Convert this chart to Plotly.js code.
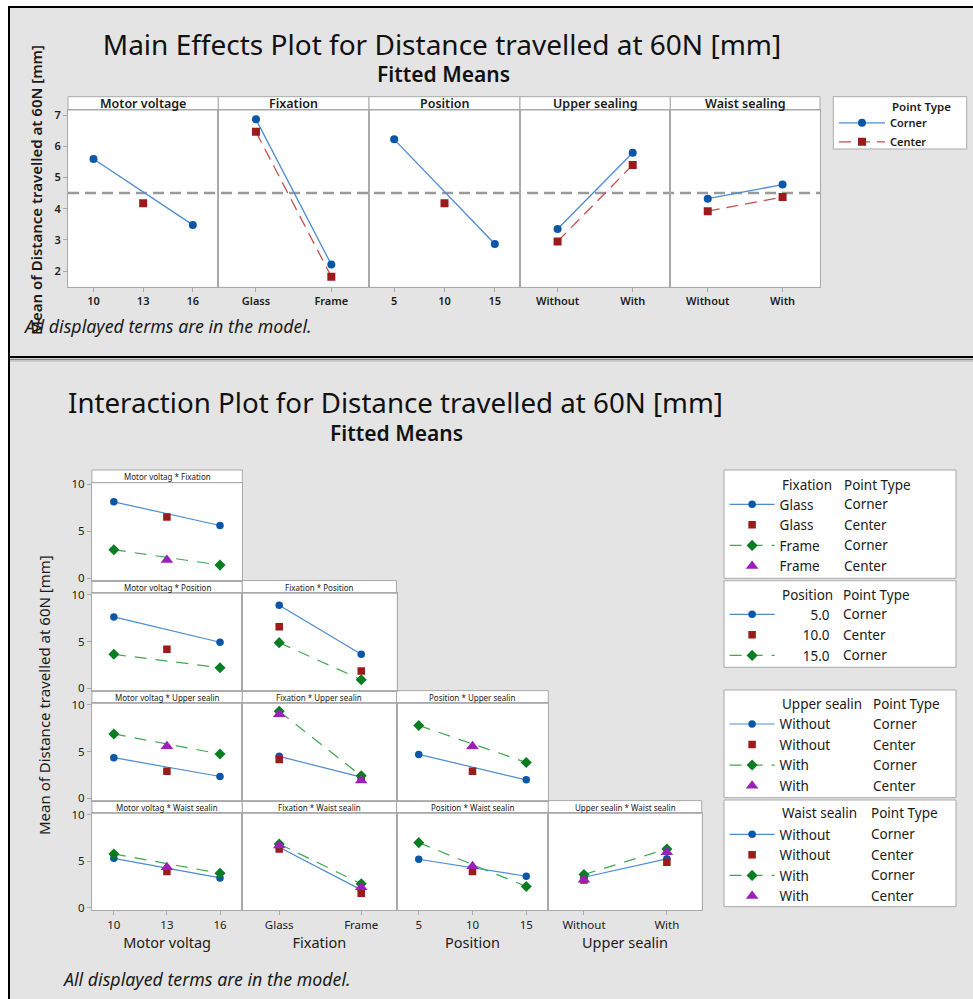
<!DOCTYPE html>
<html><head><meta charset="utf-8">
<script src="https://cdn.plot.ly/plotly-3.0.1.min.js"></script>
<style>html,body{margin:0;padding:0;background:#fff}</style>
</head><body><div id="chart" style="width:973px;height:999px"></div>
<script>
// ================= DATA =================
const pointTypes = ['Corner', 'Center'];
const grandMean = 4.5;

// factor levels
const voltLevels = [10, 13, 16];
const fixLevels = ['Glass', 'Frame'];
const posLevels = [5, 10, 15];
const sealLevels = ['Without', 'With'];

// Main effects plot (fitted means)
const mainFactors = ['Motor voltage', 'Fixation', 'Position', 'Upper sealing', 'Waist sealing'];
const meVoltCorner = [5.59, 3.48];
const meVoltCenter = [4.17];
const meFixCorner = [6.86, 2.21];
const meFixCenter = [6.46, 1.82];
const mePosCorner = [6.22, 2.87];
const mePosCenter = [4.17];
const meUpperCorner = [3.35, 5.79];
const meUpperCenter = [2.95, 5.40];
const meWaistCorner = [4.32, 4.77];
const meWaistCenter = [3.92, 4.37];
const meYTicks = [2, 3, 4, 5, 6, 7];

// Interaction plot (fitted means)
const ixColFactors = ['Motor voltag', 'Fixation', 'Position', 'Upper sealin'];
const ixRowFactors = ['Fixation', 'Position', 'Upper sealin', 'Waist sealin'];
const ixYTicks = [0, 5, 10];
const posLegendLabels = ['5.0', '10.0', '15.0'];

// row 1 : Motor voltag * Fixation
const mvFix_GlassCorner = [8.14, 5.62];
const mvFix_GlassCenter = [6.53];
const mvFix_FrameCorner = [3.04, 1.40];
const mvFix_FrameCenter = [1.94];
// row 2 : * Position
const mvPos_5Corner = [7.64, 4.93];
const mvPos_10Center = [4.18];
const mvPos_15Corner = [3.64, 2.21];
const fixPos_5Corner = [8.90, 3.64];
const fixPos_10Center = [6.60, 1.85];
const fixPos_15Corner = [4.89, 0.92];
// row 3 : * Upper sealin
const mvUp_WithoutCorner = [4.36, 2.34];
const mvUp_WithoutCenter = [2.91];
const mvUp_WithCorner = [6.90, 4.75];
const mvUp_WithCenter = [5.58];
const fixUp_WithoutCorner = [4.50, 2.27];
const fixUp_WithoutCenter = [4.17, 2.10];
const fixUp_WithCorner = [9.32, 2.41];
const fixUp_WithCenter = [9.00, 1.91];
const posUp_WithoutCorner = [4.71, 1.98];
const posUp_WithoutCenter = [2.91];
const posUp_WithCorner = [7.81, 3.85];
const posUp_WithCenter = [5.58];
// row 4 : * Waist sealin
const mvW_WithoutCorner = [5.33, 3.22];
const mvW_WithoutCenter = [3.90];
const mvW_WithCorner = [5.80, 3.72];
const mvW_WithCenter = [4.37];
const fixW_WithoutCorner = [6.52, 1.93];
const fixW_WithoutCenter = [6.34, 1.57];
const fixW_WithCorner = [6.88, 2.58];
const fixW_WithCenter = [6.70, 2.22];
const posW_WithoutCorner = [5.23, 3.40];
const posW_WithoutCenter = [3.90];
const posW_WithCorner = [7.02, 2.29];
const posW_WithCenter = [4.47];
const upW_WithoutCorner = [3.29, 5.27];
const upW_WithoutCenter = [3.00, 4.90];
const upW_WithCorner = [3.58, 6.34];
const upW_WithCenter = [3.01, 5.98];

// ================= STYLE / LAYOUT =================
const W = 973, H = 999;
const px = v => v / W;
const py = v => 1 - v / H;
const FONT = 'Noto Sans, Open Sans, sans-serif';
const DARK = '#1b1b1b';
const BORDER = '#a9a9a9';
const BLUE_M = '#0b56a6', BLUE_L = '#4d8bd0';
const RED_M = '#9c1a1a', RED_L = '#c4504e';
const GREEN_M = '#0a7d22', GREEN_L = '#3fa84f';
const PURP = '#9a20b8';

const st = {
  meCorner: {mode: 'lines+markers', line: {color: BLUE_L, width: 1.3}, marker: {color: BLUE_M, size: 8, symbol: 'circle'}},
  meCenter: {mode: 'lines+markers', line: {color: RED_L, width: 1.3, dash: '12px,7px'}, marker: {color: RED_M, size: 8, symbol: 'square'}},
  A: {mode: 'lines+markers', line: {color: BLUE_L, width: 1.2}, marker: {color: BLUE_M, size: 7.5, symbol: 'circle'}},
  B: {mode: 'markers', marker: {color: RED_M, size: 7.5, symbol: 'square'}},
  C: {mode: 'lines+markers', line: {color: GREEN_L, width: 1.2, dash: '12px,9px'}, marker: {color: GREEN_M, size: 8.5, symbol: 'diamond'}},
  D: {mode: 'markers', marker: {color: PURP, size: 11, symbol: 'triangle-up'}}
};

const traces = [];
const layout = {
  width: W, height: H,
  margin: {l: 0, r: 0, t: 0, b: 0, pad: 0},
  paper_bgcolor: '#e4e4e4',
  plot_bgcolor: '#ffffff',
  hovermode: false,
  showlegend: true,
  font: {family: FONT, color: DARK},
  title: {text: 'Main Effects Plot for Distance travelled at 60N [mm]', x: px(442), xanchor: 'center', xref: 'paper',
          y: py(45), yanchor: 'middle', yref: 'paper', font: {family: FONT, size: 28, color: '#111'}},
  shapes: [],
  annotations: []
};

function axKeys(n) {
  return {xk: n === 1 ? 'xaxis' : 'xaxis' + n, yk: n === 1 ? 'yaxis' : 'yaxis' + n,
          xr: n === 1 ? 'x' : 'x' + n, yr: n === 1 ? 'y' : 'y' + n};
}
function rect(x0, y0, x1, y1, fill, line, lw) {
  layout.shapes.push({type: 'rect', xref: 'paper', yref: 'paper', x0: px(x0), x1: px(x1), y0: py(y1), y1: py(y0),
    fillcolor: fill, line: {color: line || 'rgba(0,0,0,0)', width: lw === undefined ? 1 : lw}, layer: 'below'});
}
function hline(x0, x1, y, color, w) {
  layout.shapes.push({type: 'line', xref: 'paper', yref: 'paper', x0: px(x0), x1: px(x1), y0: py(y), y1: py(y), line: {color: color, width: w}, layer: 'above'});
}
function vline(x, y0, y1, color, w) {
  layout.shapes.push({type: 'line', xref: 'paper', yref: 'paper', x0: px(x), x1: px(x), y0: py(y0), y1: py(y1), line: {color: color, width: w}, layer: 'above'});
}
function text(t, x, y, opts) {
  opts = opts || {};
  layout.annotations.push(Object.assign({text: t, xref: 'paper', yref: 'paper', x: px(x), y: py(y), showarrow: false,
    xanchor: 'center', yanchor: 'middle', font: {family: FONT, size: 12, color: DARK}}, opts));
}

// ---------- page frame ----------
rect(0, 0, W, 6, '#ffffff', null, 0);
rect(0, 0, 8, H, '#ffffff', null, 0);
hline(8, W, 7, '#000', 2);
vline(9, 7, H, '#000', 2);
hline(8, W, 357, '#000', 2);
hline(10, W, 359.5, '#8a8a8a', 1.5);
hline(10, W, 361, '#c4c4c4', 1.5);

// ---------- MAIN EFFECTS ----------
const meEdges = [68, 218.3, 369, 520, 670.3, 820];
const meTop = 96.7, meStripBot = 110, meBot = 286.7;
const meYRange = [1.5, 7.16];
const meXRanges = [[8.46, 17.54], [-0.5, 1.5], [2.5, 17.5], [-0.5, 1.5], [-0.5, 1.5]];
const meCornerX = [[voltLevels[0], voltLevels[2]], fixLevels, [posLevels[0], posLevels[2]], sealLevels, sealLevels];
const meCenterX = [[voltLevels[1]], fixLevels, [posLevels[1]], sealLevels, sealLevels];
const meCornerY = [meVoltCorner, meFixCorner, mePosCorner, meUpperCorner, meWaistCorner];
const meCenterY = [meVoltCenter, meFixCenter, mePosCenter, meUpperCenter, meWaistCenter];
const meTickVals = [voltLevels, fixLevels, posLevels, sealLevels, sealLevels];
const meIsCat = [false, true, false, true, true];

for (let i = 0; i < 5; i++) {
  const n = i + 1, k = axKeys(n);
  const l = meEdges[i], r = meEdges[i + 1];
  layout[k.xk] = {domain: [px(l), px(r)], anchor: k.yr, range: meXRanges[i],
    type: meIsCat[i] ? 'category' : 'linear',
    tickvals: meTickVals[i], ticks: 'outside', ticklen: 4, tickcolor: BORDER, showline: true, mirror: true,
    linecolor: BORDER, linewidth: 1, showgrid: false, zeroline: false, fixedrange: true,
    tickfont: {family: FONT, size: 11, color: DARK, weight: 600}};
  if (meIsCat[i]) { layout[k.xk].categoryorder = 'array'; layout[k.xk].categoryarray = meTickVals[i]; }
  layout[k.yk] = {domain: [py(meBot), py(meStripBot)], anchor: k.xr, range: meYRange,
    tickvals: meYTicks, ticks: i === 0 ? 'outside' : '', ticklen: 4, tickcolor: BORDER, showticklabels: i === 0,
    showline: true, mirror: true, linecolor: BORDER, linewidth: 1, showgrid: false, zeroline: false, fixedrange: true,
    tickfont: {family: FONT, size: 11, color: DARK, weight: 600}};
  rect(l, meTop, r, meStripBot, '#ffffff', BORDER, 1);
  text(mainFactors[i], (l + r) / 2, (meTop + meStripBot) / 2 + 0.5, {font: {family: FONT, size: 12.5, color: DARK, weight: 600}});
  traces.push(Object.assign({type: 'scatter', x: meCornerX[i], y: meCornerY[i], xaxis: k.xr, yaxis: k.yr,
    name: pointTypes[0], legend: 'legend', showlegend: i === 0}, JSON.parse(JSON.stringify(st.meCorner))));
  traces.push(Object.assign({type: 'scatter', x: meCenterX[i], y: meCenterY[i], xaxis: k.xr, yaxis: k.yr,
    name: pointTypes[1], legend: 'legend', showlegend: i === 0}, JSON.parse(JSON.stringify(st.meCenter))));
}
// grand mean reference line
layout.shapes.push({type: 'line', xref: 'paper', yref: 'y', x0: px(meEdges[0]), x1: px(meEdges[5]), y0: grandMean, y1: grandMean,
  line: {color: '#9a9a9a', width: 2.5, dash: '11px,6px'}, layer: 'below'});

text('Fitted Means', 443.5, 74, {font: {family: FONT, size: 21, color: '#111', weight: 600}});
text('All displayed terms are in the model.', 21, 326, {xanchor: 'left', font: {family: FONT, size: 17.8, color: DARK, style: 'italic'}});
text('Mean of Distance travelled at 60N [mm]', 36, 190, {textangle: -90, font: {family: FONT, size: 15, color: DARK, weight: 600}});

// main legend
const meLegFont = 11, meLegTop = 108.3;
rect(833.3, 96.7, 966.7, 149, '#ffffff', BORDER, 1);
text('Point Type', 890, 106, {xanchor: 'left', font: {family: FONT, size: 11.5, color: DARK, weight: 600}});
layout.legend = {x: px(834), y: py(meLegTop), xanchor: 'left', yanchor: 'top', bgcolor: 'rgba(0,0,0,0)', borderwidth: 0,
  itemwidth: 46, traceorder: 'normal', font: {family: FONT, size: meLegFont, color: DARK, weight: 600}};

// ---------- INTERACTION ----------
text('Interaction Plot for Distance travelled at 60N [mm]', 395, 402, {font: {family: FONT, size: 27.7, color: '#111'}});
text('Fitted Means', 396.5, 433.5, {font: {family: FONT, size: 21, color: '#111', weight: 600}});
text('All displayed terms are in the model.', 60, 979, {xanchor: 'left', font: {family: FONT, size: 17.8, color: DARK, style: 'italic'}});
text('Mean of Distance travelled at 60N [mm]', 44, 695, {textangle: -90, font: {family: FONT, size: 15, color: DARK}});

const ixColEdges = [91.9, 242.3, 396.5, 548.3, 701.7];
const ixRowTops = [470, 580.5, 690.6, 800.6];
const ixRowBots = [580.5, 690.6, 800.6, 910];
const ixStripH = 12.7;
const ixYRange = [-0.24, 10.18];
const ixXRanges = [[8.76, 17.26], [-0.45, 1.43], [2.93, 17.05], [-0.43, 1.42]];
const ixIsCat = [false, true, false, true];
const ixTickVals = [voltLevels, fixLevels, posLevels, sealLevels];
const ixCornerX = [[voltLevels[0], voltLevels[2]], fixLevels, [posLevels[0], posLevels[2]], sealLevels];
const ixCenterX = [[voltLevels[1]], fixLevels, [posLevels[1]], sealLevels];

const ixData = [
  [[mvFix_GlassCorner, mvFix_GlassCenter, mvFix_FrameCorner, mvFix_FrameCenter]],
  [[mvPos_5Corner, mvPos_10Center, mvPos_15Corner], [fixPos_5Corner, fixPos_10Center, fixPos_15Corner]],
  [[mvUp_WithoutCorner, mvUp_WithoutCenter, mvUp_WithCorner, mvUp_WithCenter],
   [fixUp_WithoutCorner, fixUp_WithoutCenter, fixUp_WithCorner, fixUp_WithCenter],
   [posUp_WithoutCorner, posUp_WithoutCenter, posUp_WithCorner, posUp_WithCenter]],
  [[mvW_WithoutCorner, mvW_WithoutCenter, mvW_WithCorner, mvW_WithCenter],
   [fixW_WithoutCorner, fixW_WithoutCenter, fixW_WithCorner, fixW_WithCenter],
   [posW_WithoutCorner, posW_WithoutCenter, posW_WithCorner, posW_WithCenter],
   [upW_WithoutCorner, upW_WithoutCenter, upW_WithCorner, upW_WithCenter]]
];
const FS = '\u2007';
const rowLegendNames = [
  [fixLevels[0], fixLevels[0], fixLevels[1], fixLevels[1]],
  posLegendLabels.map(s => FS.repeat(7 - s.length) + s),
  [sealLevels[0], sealLevels[0], sealLevels[1], sealLevels[1]],
  [sealLevels[0], sealLevels[0], sealLevels[1], sealLevels[1]]
];
const rowStyles = [['A', 'B', 'C', 'D'], ['A', 'B', 'C'], ['A', 'B', 'C', 'D'], ['A', 'B', 'C', 'D']];

let n = 6;
for (let r = 0; r < 4; r++) {
  for (let c = 0; c <= r; c++) {
    const k = axKeys(n);
    const l = ixColEdges[c], rr = ixColEdges[c + 1];
    const top = ixRowTops[r], bot = ixRowBots[r];
    const lastRow = r === 3;
    layout[k.xk] = {domain: [px(l), px(rr)], anchor: k.yr, range: ixXRanges[c],
      type: ixIsCat[c] ? 'category' : 'linear', tickvals: ixTickVals[c],
      ticks: lastRow ? 'outside' : '', ticklen: 4, tickcolor: BORDER, showticklabels: lastRow,
      showline: true, mirror: true, linecolor: BORDER, linewidth: 1, showgrid: false, zeroline: false, fixedrange: true,
      tickfont: {family: FONT, size: 11.5, color: DARK}};
    if (ixIsCat[c]) { layout[k.xk].categoryorder = 'array'; layout[k.xk].categoryarray = ixTickVals[c]; }
    if (lastRow) layout[k.xk].title = {text: ixColFactors[c], standoff: 4, font: {family: FONT, size: 14.5, color: DARK}};
    layout[k.yk] = {domain: [py(bot), py(top + ixStripH)], anchor: k.xr, range: ixYRange, tickvals: ixYTicks,
      ticks: c === 0 ? 'outside' : '', ticklen: 4, tickcolor: BORDER, showticklabels: c === 0,
      showline: true, mirror: true, linecolor: BORDER, linewidth: 1, showgrid: false, zeroline: false, fixedrange: true,
      tickfont: {family: FONT, size: 11.5, color: DARK}};
    rect(l, top, rr, top + ixStripH, '#ffffff', BORDER, 1);
    text(ixColFactors[c] + ' * ' + ixRowFactors[r], (l + rr) / 2, top + ixStripH / 2 + 0.3, {font: {family: FONT, size: 8, color: DARK}});
    const series = ixData[r][c];
    for (let s = 0; s < series.length; s++) {
      const sty = rowStyles[r][s];
      const isCorner = sty === 'A' || sty === 'C';
      traces.push(Object.assign({type: 'scatter', x: isCorner ? ixCornerX[c] : ixCenterX[c], y: series[s],
        xaxis: k.xr, yaxis: k.yr, name: rowLegendNames[r][s], legend: 'legend' + (r + 2), showlegend: c === 0},
        JSON.parse(JSON.stringify(st[sty]))));
    }
    n++;
  }
}

// interaction legends
const ixLegFont = 13.5, ixLegH = 1.3 * ixLegFont + 3;
const ixLegTops = [489, 599, 708.7, 819];
const ixLegBoxes = [[470, 578.3], [580.7, 667.3], [690, 797.7], [800, 906.7]];
const ixLegHeaderY = [485, 595, 704.3, 813.3];
const ixLegCol2X = [841.7, 840.7, 871, 869];
const rowPointTypes = [[0, 1, 0, 1], [0, 1, 0], [0, 1, 0, 1], [0, 1, 0, 1]];
for (let r = 0; r < 4; r++) {
  rect(724, ixLegBoxes[r][0], 956, ixLegBoxes[r][1], '#ffffff', BORDER, 1);
  text(ixRowFactors[r], 780, ixLegHeaderY[r], {xanchor: 'left', font: {family: FONT, size: ixLegFont, color: DARK}});
  text('Point Type', ixLegCol2X[r], ixLegHeaderY[r], {xanchor: 'left', font: {family: FONT, size: ixLegFont, color: DARK}});
  rowPointTypes[r].forEach((p, i) => {
    text(pointTypes[p], ixLegCol2X[r], ixLegTops[r] + 5 + ixLegH * i + ixLegH / 2, {xanchor: 'left', font: {family: FONT, size: ixLegFont, color: DARK}});
  });
  layout['legend' + (r + 2)] = {x: px(724.6), y: py(ixLegTops[r]), xanchor: 'left', yanchor: 'top', bgcolor: 'rgba(0,0,0,0)',
    borderwidth: 0, itemwidth: 45, traceorder: 'normal', font: {family: FONT, size: ixLegFont, color: DARK}};
}

Plotly.newPlot('chart', traces, layout, {staticPlot: true, displayModeBar: false});
</script>
</body></html>
